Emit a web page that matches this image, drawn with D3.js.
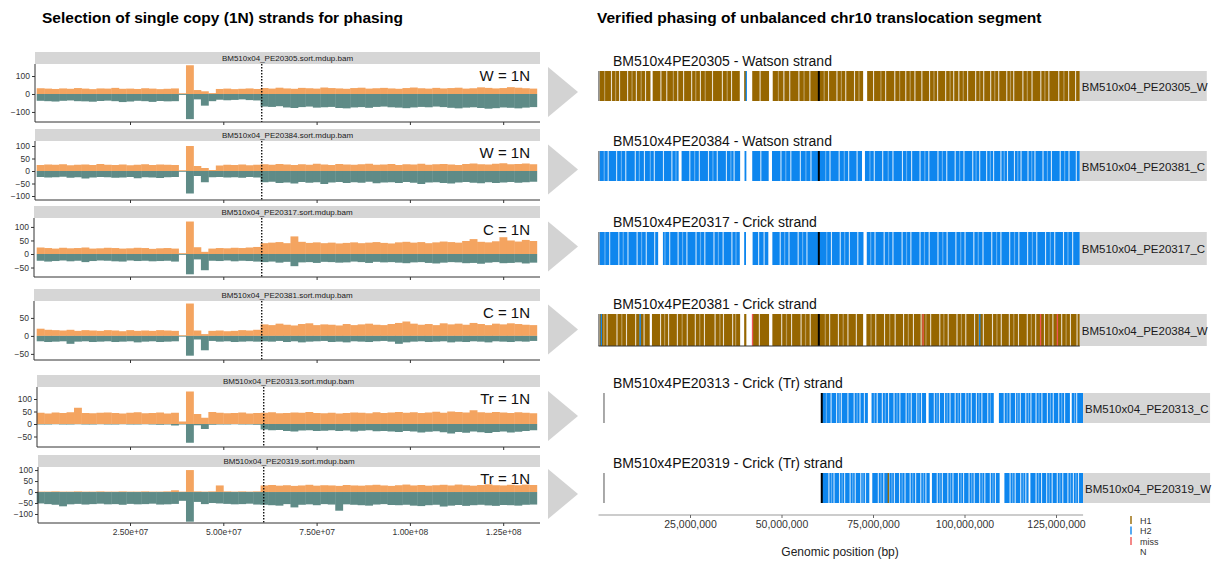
<!DOCTYPE html>
<html>
<head>
<meta charset="utf-8">
<script src="https://cdn.jsdelivr.net/npm/d3@7"></script>
<style>
  body { margin: 0; background: #fff; }
  text { font-family: "Liberation Sans", Arial, Helvetica, sans-serif; }
</style>
</head>
<body>
<svg id="chart" width="1212" height="562"></svg>
<script>
// ---------- left: strand coverage per 2 Mb bin ----------
const binSize = 2e6;
const samples = ['BM510x04_PE20305', 'BM510x04_PE20384', 'BM510x04_PE20317',
  'BM510x04_PE20381', 'BM510x04_PE20313', 'BM510x04_PE20319'];
const copyLabels = ['W = 1N', 'W = 1N', 'C = 1N', 'C = 1N', 'Tr = 1N', 'Tr = 1N'];

const watson305 = [32,30,28,31,29,33,30,27,31,30, 34,29,30,28,32,30,27,29,31,4,
  160,22,15,5,28,30,27,29,31,28, 33,30,35,31,29,34,32,30,36,33, 31,29,33,35,30,32,34,31,29,33,
  36,32,30,34,31,33,35,30,32,37, 34,31,33,38,35,32,30];
const crick305 = [-38,-40,-42,-38,-36,-40,-41,-43,-39,-37, -40,-45,-42,-38,-40,-44,-39,-41,-40,-5,
  -140,-30,-65,-40,-32,-35,-33,-30,-34,-36, -70,-72,-68,-75,-78,-73,-70,-76,-74,-72,
  -78,-80,-75,-73,-77,-72,-70,-74,-76,-79, -75,-72,-74,-70,-73,-77,-80,-76,-74,-78,
  -82,-79,-75,-77,-80,-76,-73];

const watson384 = [24,26,25,27,23,25,26,24,28,25, 24,26,23,25,27,24,26,25,24,3,
  100,20,12,4,22,25,24,26,23,25, 27,25,28,26,24,27,25,29,26,24, 28,26,25,27,29,25,26,28,24,27,
  26,29,25,27,28,26,24,28,30,27, 26,29,31,27,28,30,27];
const crick384 = [-24,-26,-25,-23,-27,-25,-30,-26,-24,-25, -27,-26,-24,-29,-25,-26,-28,-25,-24,-3,
  -90,-20,-45,-25,-24,-26,-25,-27,-24,-26, -45,-43,-48,-46,-50,-44,-47,-45,-52,-46,
  -44,-48,-45,-47,-43,-49,-46,-45,-48,-44, -47,-52,-46,-45,-48,-50,-46,-44,-47,-49,
  -45,-48,-46,-44,-47,-45,-43];

const watson317 = [24,22,20,23,21,22,24,20,21,23, 22,20,21,23,22,19,21,22,20,3,
  120,25,8,20,22,21,23,22,24,26, 40,42,44,40,65,45,41,43,40,42, 39,41,43,40,42,44,41,39,43,45,
  42,44,40,43,46,44,42,48,55,45, 43,47,62,50,46,52,48];
const crick317 = [-25,-28,-26,-24,-27,-25,-30,-26,-24,-25, -27,-28,-24,-26,-25,-27,-26,-25,-28,-3,
  -75,-20,-60,-25,-26,-24,-27,-25,-26,-28, -30,-28,-32,-29,-45,-31,-30,-33,-29,-30,
  -32,-31,-28,-30,-33,-29,-31,-30,-32,-34, -31,-30,-33,-35,-32,-30,-31,-34,-33,-36,
  -32,-30,-34,-33,-31,-35,-32];

const watson381 = [20,17,16,15,17,14,16,15,14,16, 15,13,16,14,15,14,16,15,14,2,
  90,15,5,14,15,13,14,16,15,17, 32,30,34,31,29,33,35,30,32,31, 29,33,30,32,34,31,30,33,36,40,
  34,31,33,30,35,32,34,31,36,33, 30,34,32,35,33,31,30];
const crick381 = [-15,-17,-16,-15,-22,-16,-15,-17,-16,-15, -17,-16,-15,-18,-16,-15,-17,-16,-15,-2,
  -55,-10,-40,-14,-16,-15,-17,-16,-15,-16, -15,-16,-14,-17,-15,-18,-16,-15,-14,-17,
  -16,-18,-15,-16,-17,-15,-14,-16,-22,-18, -16,-15,-17,-16,-15,-18,-16,-17,-15,-16,
  -18,-15,-16,-17,-15,-16,-14];

const watson313 = [45,42,46,44,47,65,44,43,45,46, 44,42,45,47,43,44,46,42,45,10,
  130,40,25,48,45,43,44,46,42,44, 45,47,43,44,46,45,48,44,43,45, 42,44,46,45,43,47,44,46,48,45,
  47,44,46,49,45,50,48,46,55,47, 45,48,46,44,47,45,43];
const crick313 = [-2,-2,-1,-2,-2,-1,-2,-2,-1,-2, -2,-1,-2,-2,-1,-2,-3,-2,-6,-2,
  -75,-5,-20,-3,-2,-2,-1,-2,-2,-3, -22,-25,-24,-28,-30,-26,-25,-28,-27,-25,
  -28,-26,-30,-27,-25,-29,-28,-30,-32,-28, -30,-34,-31,-29,-33,-38,-32,-35,-30,-33,
  -36,-32,-30,-34,-31,-28,-25];

const watson319 = [2,2,3,2,2,3,2,2,3,2, 2,3,2,2,3,2,2,3,8,2,
  100,3,2,3,30,3,2,3,2,3, 30,32,29,31,28,30,33,29,31,30, 28,32,30,29,31,33,30,28,31,34,
  30,32,29,31,33,30,34,31,29,32, 35,31,30,33,31,34,32];
const crick319 = [-52,-55,-58,-65,-56,-54,-57,-55,-53,-56, -55,-58,-54,-56,-55,-53,-57,-56,-54,-40,
  -135,-45,-55,-50,-52,-54,-56,-55,-53,-57, -58,-60,-62,-55,-70,-58,-56,-60,-55,-57,
  -85,-56,-58,-60,-62,-57,-55,-59,-60,-58, -62,-64,-60,-58,-66,-62,-59,-63,-60,-58,
  -61,-63,-59,-60,-62,-58,-57];

const watsonCounts = [watson305, watson384, watson317, watson381, watson313, watson319];
const crickCounts = [crick305, crick384, crick317, crick381, crick313, crick319];

const yTickValues = [[-100, 0, 100], [-100, -50, 0, 50, 100], [-50, 0, 50, 100],
  [-50, 0, 50], [-50, 0, 50, 100], [-100, -50, 0, 50, 100]];
const xTickValues = [25e6, 50e6, 75e6, 100e6, 125e6];
const xTickLabels = ['2.50e+07', '5.00e+07', '7.50e+07', '1.00e+08', '1.25e+08'];
const breakpointBp = 60.3e6;
const chromEnd = 134.8e6;

// ---------- right: phased haplotype tracks (Mb) ----------
const trackTitles = ['BM510x4PE20305 - Watson strand', 'BM510x4PE20384 - Watson strand',
  'BM510x4PE20317 - Crick strand', 'BM510x4PE20381 - Crick strand',
  'BM510x4PE20313 - Crick (Tr) strand', 'BM510x4PE20319 - Crick (Tr) strand'];
const trackStrips = ['BM510x04_PE20305_W', 'BM510x04_PE20381_C', 'BM510x04_PE20317_C',
  'BM510x04_PE20384_W', 'BM510x04_PE20313_C', 'BM510x04_PE20319_W'];
const trackHap = ['H1', 'H2', 'H2', 'H1', 'H2', 'H2'];
const trackStart = [0.3, 0.3, 0.3, 0.3, 61.0, 61.0];
const trackEnd = [131.5, 131.5, 131.5, 131.5, 132.4, 132.4];
const trackFirstRead = [0.1, 0.1, 0.1, 0.1, 1.5, 1.5];
const trackBreak = [60.2, 60.2, 60.2, 60.2, 61.0, 61.0];

const wideGaps = [
  [[14.2, 14.8], [38.6, 39.8], [40.3, 42.0], [46.6, 47.6], [72.3, 73.4]],
  [[21.9, 22.7], [38.7, 39.9], [40.4, 42.0], [46.5, 47.4], [72.0, 72.8]],
  [[16.3, 17.6], [38.6, 39.8], [40.3, 42.1], [46.4, 47.5], [72.4, 73.3]],
  [[14.0, 14.6], [38.7, 39.8], [40.4, 42.0], [46.6, 47.5], [72.3, 73.2]],
  [[73.6, 74.6], [89.5, 90.2], [108.0, 109.4], [128.8, 129.3]],
  [[74.0, 74.8], [90.5, 91.1], [109.6, 110.9], [117.5, 118.0]]
];
const thinGaps = [
  [3.4,5.6,7.8,10.2,12.7,16.9,18.5,21.5,23.1,25.3,27.7,31.0,33.7,36.2,44.0,50.5,52.1,54.6,57.6,
   62.7,65.0,67.4,69.8,75.0,78.3,80.8,83.8,86.3,88.2,90.3,92.5,94.7,96.9,98.3,100.7,102.9,105.1,
   107.0,109.2,111.4,113.3,115.8,118.3,120.7,122.9,125.6,128.3,130.2],
  [2.5,4.8,7.3,9.9,12.4,15.1,17.6,19.9,24.8,27.4,29.9,32.3,34.8,36.9,44.2,49.7,52.4,55.0,57.9,
   63.1,65.6,68.2,70.5,75.2,77.5,80.3,82.9,85.4,87.7,90.1,92.6,95.0,97.3,99.7,102.1,104.0,105.9,
   107.8,109.8,111.6,113.5,115.3,117.2,119.1,121.3,123.6,126.0,128.4,130.4],
  [2.9,5.4,7.9,10.4,12.9,15.2,19.3,21.6,24.0,26.5,28.9,31.4,33.9,36.3,43.6,45.1,49.5,51.9,54.4,
   56.8,63.5,65.9,68.4,70.7,75.4,77.9,80.3,82.8,85.2,87.7,90.2,92.6,95.1,97.5,100.0,102.4,104.9,
   107.3,109.8,112.2,114.7,117.1,119.6,122.0,124.5,126.9,129.4],
  [2.2,4.9,7.5,10.0,12.3,16.8,19.0,21.4,24.1,26.3,28.8,31.7,34.0,36.5,43.8,49.9,52.6,55.2,57.7,
   63.0,65.4,68.0,70.3,75.6,78.0,80.9,83.2,85.9,88.0,90.6,93.1,95.4,97.8,100.2,102.6,105.0,107.5,
   109.9,112.1,114.6,117.0,119.3,121.7,124.0,126.4,128.8,130.6],
  [63.4,64.9,66.2,68.0,69.7,71.3,72.5,76.0,77.4,79.1,80.6,82.2,83.9,85.3,86.8,88.1,91.6,93.0,94.4,
   95.9,97.3,98.8,100.2,101.7,103.1,104.6,106.2,110.7,112.3,113.8,115.1,116.6,118.0,119.4,121.0,
   122.5,124.1,125.6,127.2,130.5],
  [62.8,64.2,65.7,67.1,68.6,70.0,71.5,72.8,76.3,77.8,79.2,80.7,82.1,83.6,85.0,86.5,87.9,89.3,92.4,
   93.8,95.3,96.7,98.2,99.6,101.1,102.5,104.0,105.4,106.9,108.3,112.3,113.7,115.2,116.6,119.4,
   120.9,122.3,123.8,125.2,126.7,128.1,129.6,131.0]
];
// faint, partly covered positions (lighter streaks inside the bars)
const lightStreaks = [
  [1.5,4.5,9.0,11.5,20.3,26.4,29.0,35.0,49.0,56.0,61.5,66.2,71.0,77.0,82.1,85.0,91.5,95.9,99.5,
   104.0,108.1,112.4,117.0,121.8,127.0],
  [1.4,6.1,11.0,14.0,21.0,26.1,31.1,36.0,51.0,56.5,61.9,67.0,74.0,79.0,84.0,89.0,93.8,98.5,103.0,
   106.9,110.7,114.4,118.2,122.5,127.2],
  [1.6,6.6,11.6,18.0,22.8,27.7,32.6,37.4,50.7,55.6,62.2,67.1,74.2,79.1,84.0,88.9,93.9,98.8,103.6,
   108.6,113.5,118.4,123.3,128.1],
  [1.3,6.2,11.2,17.9,22.7,27.5,33.0,37.3,51.2,56.4,61.8,66.7,74.3,79.4,84.5,89.3,94.2,99.0,103.8,
   108.7,113.3,118.1,122.9,127.6],
  [62.1,65.6,70.5,75.2,78.2,81.4,84.6,87.4,92.3,95.1,98.1,100.9,103.8,106.9,111.5,114.4,117.3,
   120.2,123.3,126.4,129.9],
  [63.5,66.4,69.3,72.1,77.0,80.0,82.8,85.7,88.6,93.1,96.0,98.9,101.8,104.7,107.6,113.0,115.9,
   120.1,123.0,125.9,128.8,130.3]
];
// isolated calls of the other haplotype / missing
const h1Marks = [[], [], [], [], [], [79.0]];
const h2Marks = [[40.2], [], [], [0.6, 11.2, 104.0], [], []];
const missMarks = [[], [], [], [41.9, 88.5, 120.6, 125.2], [], []];

const axisTicksBp = [25e6, 50e6, 75e6, 100e6, 125e6];
const legendKeys = ['H1', 'H2', 'miss', 'N'];

// ---------- drawing ----------
const colors = {
  watson: '#F4A460', crick: '#5F8B87',
  H1: '#966600', H2: '#0E86EE', miss: '#F05555', N: 'none',
  strip: '#D6D6D6', arrow: '#D3D3D3'
};

const svg = d3.select('#chart');

svg.append('text').attr('x', 42).attr('y', 23)
  .style('font-size', '15.5px').style('font-weight', 'bold')
  .text('Selection of single copy (1N) strands for phasing');
svg.append('text').attr('x', 597).attr('y', 23)
  .style('font-size', '15.5px').style('font-weight', 'bold')
  .text('Verified phasing of unbalanced chr10 translocation segment');

const panels = [
  { left: 35, stripTop: 52, top: 64, bottom: 122, yMin: -156, yMax: 167 },
  { left: 35, stripTop: 129, top: 141, bottom: 200, yMin: -116, yMax: 120 },
  { left: 34, stripTop: 206, top: 218, bottom: 277, yMin: -85, yMax: 133 },
  { left: 34, stripTop: 289, top: 301, bottom: 360, yMin: -67, yMax: 97 },
  { left: 37, stripTop: 375, top: 387, bottom: 447, yMin: -92, yMax: 148 },
  { left: 38, stripTop: 455, top: 467, bottom: 523, yMin: -141, yMax: 114 }
];
const plotRight = 540;

const x = d3.scaleLinear().domain([0, 25e6]).range([36.7, 130]);

panels.forEach((p, i) => {
  const g = svg.append('g').attr('class', 'strand-panel');
  const y = d3.scaleLinear().domain([p.yMin, p.yMax]).range([p.bottom, p.top]);

  g.append('rect').attr('x', p.left).attr('y', p.stripTop)
    .attr('width', plotRight - p.left).attr('height', p.top - p.stripTop)
    .attr('fill', colors.strip);
  g.append('text').attr('x', (p.left + plotRight) / 2).attr('y', p.stripTop + 8.5)
    .attr('text-anchor', 'middle').style('font-size', '8px').attr('fill', '#1a1a1a')
    .text(samples[i] + '.sort.mdup.bam');

  const bins = (arr) => arr.map((v, k) => ({
    x0: k * binSize, x1: Math.min((k + 1) * binSize, chromEnd), v
  }));

  g.selectAll('.w').data(bins(watsonCounts[i])).join('rect')
    .attr('x', d => x(d.x0)).attr('width', d => x(d.x1) - x(d.x0) + 0.4)
    .attr('y', d => y(d.v)).attr('height', d => y(0) - y(d.v))
    .attr('fill', colors.watson);
  g.selectAll('.c').data(bins(crickCounts[i])).join('rect')
    .attr('x', d => x(d.x0)).attr('width', d => x(d.x1) - x(d.x0) + 0.4)
    .attr('y', y(0)).attr('height', d => y(d.v) - y(0))
    .attr('fill', colors.crick);

  const bx = x(breakpointBp) + (i >= 4 ? 2 : 0);
  g.append('line').attr('x1', bx).attr('x2', bx).attr('y1', p.top).attr('y2', p.bottom)
    .attr('stroke', '#000').attr('stroke-width', 1.3).attr('stroke-dasharray', '1.5,1.5');

  const ay = d3.axisLeft(y).tickValues(yTickValues[i]).tickSize(3).tickPadding(2).tickSizeOuter(0);
  const gy = g.append('g').attr('transform', `translate(${p.left},0)`).call(ay);
  gy.select('.domain').attr('stroke', '#333').attr('d', `M0,${p.bottom}V${p.top}`);
  gy.selectAll('.tick line').attr('stroke', '#333');
  gy.selectAll('.tick text').style('font-size', '8.5px').attr('fill', '#333')
    .style('font-family', '"Liberation Sans", Arial, sans-serif');

  const ax = d3.axisBottom(x).tickValues(xTickValues).tickSize(3).tickSizeOuter(0)
    .tickFormat((d, k) => (i === panels.length - 1 ? xTickLabels[k] : ''));
  const gx = g.append('g').attr('transform', `translate(0,${p.bottom})`).call(ax);
  gx.select('.domain').attr('d', `M${p.left},0H${plotRight}`).attr('stroke', '#333');
  gx.selectAll('.tick line').attr('stroke', '#333');
  gx.selectAll('.tick text').style('font-size', '8.5px').attr('fill', '#333')
    .style('font-family', '"Liberation Sans", Arial, sans-serif');

  g.append('text').attr('x', 530).attr('y', p.top + 17).attr('text-anchor', 'end')
    .style('font-size', '15px').attr('fill', '#111').text(copyLabels[i]);

  // arrow to the matching phased track
  const cy = (p.stripTop + p.bottom) / 2 + 5;
  g.append('path').attr('d', `M548,${cy - 25}L578,${cy}L548,${cy + 25}Z`)
    .attr('fill', colors.arrow);
});

// ---------- right tracks ----------
const xr = d3.scaleLinear().domain([0, 125]).range([598.5, 1056]);
const tracks = [
  { top: 71, h: 30 }, { top: 151, h: 30 }, { top: 232, h: 33 },
  { top: 314, h: 32 }, { top: 393, h: 30 }, { top: 473, h: 30 }
];

tracks.forEach((t, i) => {
  const g = svg.append('g').attr('class', 'phase-track');
  g.append('text').attr('x', 613).attr('y', t.top - 5)
    .style('font-size', '14px').attr('fill', '#111').text(trackTitles[i]);

  g.append('rect').attr('x', xr(trackStart[i])).attr('y', t.top)
    .attr('width', xr(trackEnd[i]) - xr(trackStart[i])).attr('height', t.h)
    .attr('fill', colors[trackHap[i]]);

  g.selectAll('.light').data(lightStreaks[i]).join('rect')
    .attr('x', d => xr(d)).attr('width', 1.2)
    .attr('y', t.top).attr('height', t.h).attr('fill', '#fff').attr('opacity', 0.35);
  g.selectAll('.gap').data(wideGaps[i]).join('rect')
    .attr('x', d => xr(d[0])).attr('width', d => xr(d[1]) - xr(d[0]))
    .attr('y', t.top).attr('height', t.h).attr('fill', '#fff');
  g.selectAll('.thin').data(thinGaps[i]).join('rect')
    .attr('x', d => xr(d)).attr('width', 1.1)
    .attr('y', t.top).attr('height', t.h).attr('fill', '#fff').attr('opacity', 0.8);

  const marks = (arr, col) => g.selectAll(null).data(arr).join('rect')
    .attr('x', d => xr(d)).attr('width', 1.3)
    .attr('y', t.top).attr('height', t.h).attr('fill', col);
  marks(h1Marks[i], colors.H1);
  marks(h2Marks[i], colors.H2);
  marks(missMarks[i], colors.miss);

  g.append('line').attr('x1', xr(trackFirstRead[i])).attr('x2', xr(trackFirstRead[i]))
    .attr('y1', t.top).attr('y2', t.top + t.h).attr('stroke', '#555').attr('stroke-width', 1);
  g.append('line').attr('x1', xr(trackBreak[i])).attr('x2', xr(trackBreak[i]))
    .attr('y1', t.top).attr('y2', t.top + t.h).attr('stroke', '#000').attr('stroke-width', 2);
  if (i === 3) {
    g.append('line').attr('x1', xr(0)).attr('x2', xr(trackEnd[i]))
      .attr('y1', t.top + t.h).attr('y2', t.top + t.h).attr('stroke', '#333').attr('stroke-width', 1);
  }

  const sx = xr(trackEnd[i]);
  g.append('rect').attr('x', sx).attr('y', t.top).attr('width', 127).attr('height', t.h)
    .attr('fill', colors.strip);
  g.append('text').attr('x', sx + 2).attr('y', t.top + t.h / 2 + 4.5)
    .style('font-size', '11.5px').attr('fill', '#1a1a1a').text(trackStrips[i]);
});

// bottom genomic axis
const axisY = 515;
const gAxis = svg.append('g').attr('transform', `translate(0,${axisY})`)
  .call(d3.axisBottom(xr).tickValues(axisTicksBp.map(d => d / 1e6)).tickSize(3)
    .tickSizeOuter(0).tickFormat(d => d3.format(',')(d * 1e6)));
gAxis.select('.domain').attr('d', `M${xr(0)},0H${xr(132.4)}`).attr('stroke', '#999');
gAxis.selectAll('.tick line').attr('stroke', '#666');
gAxis.selectAll('.tick text').style('font-size', '10.5px').attr('fill', '#333')
  .style('font-family', '"Liberation Sans", Arial, sans-serif');
svg.append('text').attr('x', xr(66)).attr('y', 556).attr('text-anchor', 'middle')
  .style('font-size', '12px').attr('fill', '#222').text('Genomic position (bp)');

// legend
const legend = svg.append('g').attr('transform', 'translate(1130,515)');
legendKeys.forEach((k, j) => {
  legend.append('rect').attr('x', 0).attr('y', j * 10.5 + 1).attr('width', 2).attr('height', 8)
    .attr('fill', colors[k]).attr('opacity', 0.7);
  legend.append('text').attr('x', 10).attr('y', j * 10.5 + 8.5)
    .style('font-size', '9px').attr('fill', '#333').text(k);
});
</script>
</body>
</html>
